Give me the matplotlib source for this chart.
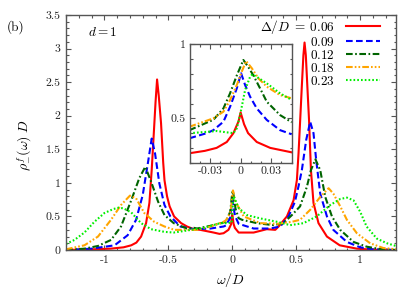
import matplotlib
matplotlib.use("Agg")
import matplotlib.pyplot as plt
from matplotlib.ticker import MultipleLocator

plt.rcParams['font.family'] = ['cmr10', 'DejaVu Serif']
plt.rcParams['mathtext.fontset'] = 'cm'
plt.rcParams['axes.unicode_minus'] = False
plt.rcParams['axes.formatter.use_mathtext'] = True

labels = [r'$\Delta/D\;=\;0.06$', r'$0.09$', r'$0.12$', r'$0.18$', r'$0.23$']
colors = ['#ff0000', '#0000ff', '#006400', '#ffa500', '#00ee00']

# main panel curves
x_006 = [-1.3, -1.1, -0.95, -0.85, -0.79, -0.75, -0.713, -0.674, -0.648, -0.63, -0.615, -0.60, -0.588,
         -0.575, -0.557, -0.54, -0.53, -0.51, -0.49, -0.455, -0.40, -0.354, -0.30, -0.25, -0.146, -0.10,
         -0.068, -0.03, -0.01, 0.0, 0.01, 0.02, 0.05, 0.167, 0.27, 0.336, 0.362, 0.427, 0.479, 0.505,
         0.518, 0.531, 0.544, 0.556, 0.565, 0.575, 0.591, 0.60, 0.615, 0.635, 0.674, 0.74, 0.84, 0.974,
         1.1, 1.28]
y_006 = [0.0, 0.01, 0.02, 0.04, 0.07, 0.11, 0.2, 0.4, 0.7, 1.19, 1.69, 2.2, 2.54,
         2.3, 1.89, 1.3, 1.04, 0.8, 0.65, 0.5, 0.40, 0.35, 0.31, 0.30, 0.26, 0.24,
         0.25, 0.30, 0.38, 0.54, 0.39, 0.33, 0.26, 0.26, 0.31, 0.30, 0.35, 0.50, 0.74, 1.04,
         1.44, 1.94, 2.45, 2.9, 3.09, 2.9, 2.28, 1.94, 1.19, 0.70, 0.40, 0.20, 0.07, 0.02,
         0.005, 0.0]

x_009 = [-1.3, -1.1, -0.92, -0.818, -0.752, -0.70, -0.656, -0.63, -0.604, -0.57, -0.53, -0.484, -0.406,
         -0.30, -0.17, -0.068, -0.05, -0.0168, -0.0103, -0.0037, 0.0005, 0.0044, 0.0093, 0.0158, 0.0256,
         0.05, 0.167, 0.297, 0.375, 0.44, 0.49, 0.518, 0.544, 0.578, 0.609, 0.635, 0.656, 0.6875, 0.74,
         0.79, 0.896, 1.0, 1.1, 1.28]
y_009 = [0.0, 0.02, 0.07, 0.22, 0.45, 0.82, 1.34, 1.66, 1.44, 0.99, 0.67, 0.5, 0.35,
         0.31, 0.32, 0.35, 0.365, 0.477, 0.578, 0.703, 0.804, 0.725, 0.646, 0.567, 0.489,
         0.39, 0.32, 0.32, 0.35, 0.5, 0.72, 0.95, 1.19, 1.64, 1.91, 1.74, 1.34, 0.84, 0.5,
         0.30, 0.12, 0.04, 0.01, 0.0]

x_012 = [-1.3, -1.156, -1.05, -0.948, -0.87, -0.79, -0.727, -0.68, -0.635, -0.58, -0.53, -0.458, -0.354,
         -0.30, -0.276, -0.17, -0.068, -0.05, -0.0168, -0.0103, -0.0037, 0.0027, 0.0073, 0.0125, 0.019,
         0.0256, 0.05, 0.076, 0.193, 0.32, 0.40, 0.466, 0.53, 0.583, 0.615, 0.65, 0.6875, 0.727, 0.779,
         0.844, 0.948, 1.05, 1.15, 1.28]
y_012 = [0.0, 0.02, 0.06, 0.15, 0.35, 0.74, 1.07, 1.24, 1.02, 0.72, 0.52, 0.40, 0.32,
         0.33, 0.32, 0.36, 0.41, 0.42, 0.567, 0.669, 0.79, 0.894, 0.849, 0.79, 0.703,
         0.612, 0.473, 0.45, 0.40, 0.37, 0.40, 0.52, 0.65, 0.94, 1.19, 1.35, 1.19, 0.79, 0.5,
         0.30, 0.12, 0.05, 0.015, 0.0]

x_018 = [-1.3, -1.156, -1.05, -0.948, -0.87, -0.80, -0.752, -0.6875, -0.61, -0.53, -0.453, -0.38, -0.276,
         -0.17, -0.068, -0.05, -0.0168, -0.0103, -0.0037, 0.0011, 0.0054, 0.011, 0.0174, 0.0256, 0.05,
         0.089, 0.22, 0.35, 0.466, 0.53, 0.61, 0.6875, 0.753, 0.79, 0.844, 0.896, 0.974, 1.078, 1.18, 1.28]
y_018 = [0.01, 0.07, 0.2, 0.45, 0.67, 0.81, 0.77, 0.55, 0.42, 0.35, 0.30, 0.30, 0.30,
         0.35, 0.42, 0.443, 0.545, 0.624, 0.725, 0.815, 0.887, 0.838, 0.77, 0.714, 0.635,
         0.50, 0.40, 0.39, 0.42, 0.45, 0.6, 0.79, 0.92, 0.84, 0.65, 0.45, 0.25, 0.10, 0.03, 0.01]

x_023 = [-1.3, -1.234, -1.156, -1.078, -1.0, -0.93, -0.89, -0.85, -0.79, -0.713, -0.635, -0.53, -0.458,
         -0.354, -0.224, -0.094, -0.05, -0.0135, -0.007, -0.0037, -0.0005, 0.0044, 0.0093, 0.0115, 0.0158,
         0.0256, 0.05, 0.115, 0.22, 0.35, 0.453, 0.557, 0.66, 0.766, 0.844, 0.896, 0.948, 1.0, 1.05, 1.13,
         1.21, 1.28]
y_023 = [0.09, 0.15, 0.26, 0.42, 0.55, 0.61, 0.63, 0.62, 0.56, 0.40, 0.31, 0.27, 0.26,
         0.29, 0.33, 0.40, 0.40, 0.405, 0.40, 0.432, 0.522, 0.691, 0.781, 0.797, 0.78,
         0.736, 0.624, 0.52, 0.47, 0.42, 0.37, 0.40, 0.5, 0.67, 0.76, 0.78, 0.74, 0.57, 0.35, 0.17,
         0.10, 0.06]

# inset curves (zoom around omega = 0)
xi_006 = [-0.05, -0.035, -0.0235, -0.0135, -0.007, -0.002, 0.0, 0.0034, 0.0073, 0.0158, 0.029, 0.05]
yi_006 = [0.264, 0.28, 0.30, 0.34, 0.40, 0.48, 0.54, 0.46, 0.40, 0.34, 0.30, 0.27]
xi_009 = [-0.05, -0.033, -0.0266, -0.0168, -0.0103, -0.0037, 0.0005, 0.0044, 0.0093, 0.0158, 0.0256, 0.0386, 0.05]
yi_009 = [0.365, 0.40, 0.42, 0.477, 0.578, 0.703, 0.804, 0.725, 0.646, 0.567, 0.489, 0.42, 0.392]
xi_012 = [-0.05, -0.0266, -0.0168, -0.0103, -0.0037, 0.0027, 0.0073, 0.0125, 0.019, 0.0256, 0.0386, 0.05]
yi_012 = [0.42, 0.49, 0.567, 0.669, 0.79, 0.894, 0.849, 0.79, 0.703, 0.612, 0.522, 0.473]
xi_018 = [-0.05, -0.0266, -0.0168, -0.0103, -0.0037, 0.0011, 0.0054, 0.011, 0.0174, 0.0256, 0.0386, 0.05]
yi_018 = [0.443, 0.50, 0.545, 0.624, 0.725, 0.815, 0.887, 0.838, 0.77, 0.714, 0.657, 0.635]
xi_023 = [-0.05, -0.0396, -0.0233, -0.0135, -0.007, -0.0037, -0.0005, 0.0044, 0.0093, 0.0115, 0.0158, 0.0256, 0.0386, 0.05]
yi_023 = [0.399, 0.405, 0.414, 0.405, 0.40, 0.432, 0.522, 0.691, 0.781, 0.797, 0.78, 0.736, 0.669, 0.624]

main_x = [x_006, x_009, x_012, x_018, x_023]
main_y = [y_006, y_009, y_012, y_018, y_023]
ins_x = [xi_006, xi_009, xi_012, xi_018, xi_023]
ins_y = [yi_006, yi_009, yi_012, yi_018, yi_023]

xticks = [-1, -0.5, 0, 0.5, 1]
xticklabels = ['-1', '-0.5', '0', '0.5', '1']
yticks = [0, 0.5, 1, 1.5, 2, 2.5, 3, 3.5]
yticklabels = ['0', '0.5', '1', '1.5', '2', '2.5', '3', '3.5']
ixticks = [-0.03, 0, 0.03]
ixticklabels = ['-0.03', '0', '0.03']
iyticks = [0.5, 1]
iyticklabels = ['0.5', '1']

styles = [dict(linestyle='-'),
          dict(linestyle=(0, (3.2, 1.6))),
          dict(linestyle=(0, (3.2, 1.2, 0.8, 1.2))),
          dict(linestyle=(0, (3.2, 1.0, 0.8, 1.0, 0.8, 1.0))),
          dict(linestyle=(0, (0.8, 1.0)))]
lw = 1.5
fs = 8.5
frame_col = '#555555'

W, H = 415, 291
fig = plt.figure(figsize=(W / 100, H / 100), dpi=100)
ax = fig.add_axes([66 / W, 1 - 250 / H, (396 - 66) / W, (250 - 15) / H])

for xs, ys, c, st, lab in zip(main_x, main_y, colors, styles, labels):
    ax.plot(xs, ys, color=c, lw=lw, label=lab, **st)

ax.set_xlim(-1.3, 1.28)
ax.set_ylim(0, 3.5)
ax.set_xticks(xticks)
ax.set_xticklabels(xticklabels)
ax.set_yticks(yticks)
ax.set_yticklabels(yticklabels)
ax.xaxis.set_minor_locator(MultipleLocator(0.1))
ax.yaxis.set_minor_locator(MultipleLocator(0.1))


def style_axes(a):
    for s in a.spines.values():
        s.set_color(frame_col)
        s.set_linewidth(1.0)
    a.tick_params(which='both', direction='in', top=True, right=True, colors=frame_col,
                  labelcolor='#222222', labelsize=fs, width=0.8)
    a.tick_params(which='major', length=3.5, pad=4)
    a.tick_params(which='minor', length=1.8)


style_axes(ax)

leg = ax.legend(loc='upper right', bbox_to_anchor=(380 / W, 1 - 18 / H),
                bbox_transform=fig.transFigure, frameon=False, markerfirst=False,
                fontsize=fs + 1, handlelength=2.6, handletextpad=0.8, labelspacing=0.0,
                borderpad=0, borderaxespad=0)

fig.text(7 / W, 1 - 27 / H, '(b)', fontsize=fs + 1, va='center', ha='left')
fig.text(88 / W, 1 - 33 / H, r'$d = 1$', fontsize=fs + 1, va='center', ha='left')
fig.text(25 / W, 0.5, r'$\rho^f_{-}(\omega)\;D$', fontsize=fs + 1.5, rotation=90,
         va='center', ha='center')
fig.text(230 / W, 1 - 280 / H, r'$\omega/D$', fontsize=fs + 1.5, va='center', ha='center')

# inset
axi = fig.add_axes([189.5 / W, 1 - 162.7 / H, (291.7 - 189.5) / W, (162.7 - 44.3) / H])
for xs, ys, c, st in zip(ins_x, ins_y, colors, styles):
    axi.plot(xs, ys, color=c, lw=lw, **st)
axi.set_xlim(-0.05, 0.05)
axi.set_ylim(0.2, 1.0)
axi.set_xticks(ixticks)
axi.set_xticklabels(ixticklabels)
axi.set_yticks(iyticks)
axi.set_yticklabels(iyticklabels)
axi.xaxis.set_minor_locator(MultipleLocator(0.01))
axi.yaxis.set_minor_locator(MultipleLocator(0.1))
style_axes(axi)
axi.tick_params(which='major', pad=3)

fig.savefig('out.png', dpi=100)
